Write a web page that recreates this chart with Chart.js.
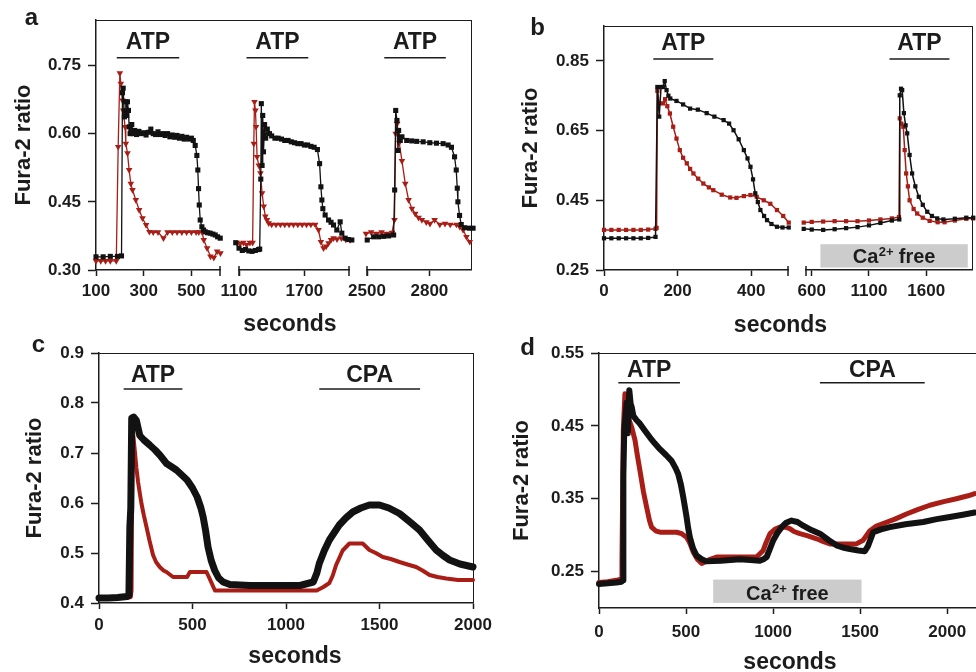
<!DOCTYPE html>
<html>
<head>
<meta charset="utf-8">
<title>Fura-2 ratio traces</title>
<script src="https://cdn.jsdelivr.net/npm/chart.js@4.4.1/dist/chart.umd.min.js"></script>
<style>
  html, body { margin: 0; padding: 0; background: #fff; }
  #fig { position: relative; width: 976px; height: 672px; overflow: hidden; background: #fff;
         font-family: "Liberation Sans", Arial, Helvetica, sans-serif; color: #1c1c1c; }
  #fig canvas { position: absolute; }
  .lbl { position: absolute; line-height: 1; font-weight: bold; white-space: nowrap; transform: translateX(-50%); }
  .frame { position: absolute; border-top: 1px solid #1c1c1c; border-right: 1px solid #1c1c1c; box-sizing: border-box; }
</style>
</head>
<body>
<div id="fig"></div>
<script>
// ---- panel a (three time windows, seconds / Fura-2 ratio) ----
const aT1_red = [100,120,140,160,185,193,200,204,211,214,
                 222,225,232,239,246,253,267,281,295,310,
                 324,340,360,383,400,420,440,460,480,500,
                 520,531,545,552,566,580,594,608,622];
const aV1_red = [0.32,0.32,0.32,0.32,0.32,0.571,0.733,0.71,0.673,0.651,
                 0.615,0.578,0.557,0.52,0.49,0.476,0.454,0.432,0.414,0.399,
                 0.384,0.383,0.383,0.37,0.383,0.383,0.383,0.383,0.383,0.383,
                 0.383,0.383,0.383,0.366,0.348,0.33,0.327,0.341,0.337];
const aT1_blk = [100,130,160,190,207,211,214,219,222,225,
                 229,232,236,239,243,246,250,256,262,270,
                 280,290,300,310,320,330,340,350,360,370,
                 380,390,400,410,420,430,440,450,460,470,
                 480,490,500,508,516,523,527,530,533,537,
                 544,551,558,568,579,590,600,610,621,632,
                 642];
const aV1_blk = [0.329,0.329,0.33,0.33,0.331,0.69,0.70,0.637,0.65,0.67,
                 0.64,0.67,0.651,0.615,0.60,0.604,0.62,0.60,0.607,0.598,
                 0.605,0.60,0.602,0.597,0.603,0.61,0.60,0.598,0.604,0.598,
                 0.60,0.596,0.60,0.593,0.597,0.592,0.596,0.59,0.594,0.588,
                 0.592,0.588,0.59,0.585,0.574,0.552,0.52,0.479,0.443,0.41,
                 0.395,0.388,0.384,0.382,0.381,0.379,0.377,0.373,0.37,0.366,
                 0.362];
const aT2_red = [1080,1110,1140,1170,1200,1225,1236,1242,1251,1257,
                 1266,1282,1297,1312,1327,1342,1357,1373,1400,1440,
                 1480,1520,1560,1600,1640,1680,1720,1760,1800,1830,
                 1852,1876,1900,1922,1945,1968,2000,2040,2080,2120];
const aV2_red = [0.36,0.358,0.36,0.355,0.36,0.36,0.578,0.67,0.651,0.615,
                 0.549,0.53,0.513,0.469,0.44,0.418,0.41,0.403,0.40,0.40,
                 0.40,0.40,0.40,0.40,0.40,0.40,0.40,0.40,0.40,0.388,
                 0.362,0.348,0.352,0.359,0.366,0.37,0.368,0.37,0.367,0.366];
const aT2_blk = [1070,1100,1130,1160,1190,1220,1250,1280,1290,1300,
                 1305,1312,1318,1325,1335,1345,1360,1380,1400,1430,
                 1460,1490,1520,1550,1580,1610,1640,1670,1700,1730,
                 1760,1790,1820,1840,1852,1861,1870,1891,1922,1945,
                 1968,1998,2029,2044,2075,2105,2136];
const aV2_blk = [0.36,0.348,0.343,0.345,0.342,0.341,0.343,0.345,0.346,0.50,
                 0.666,0.53,0.64,0.56,0.62,0.59,0.61,0.60,0.595,0.59,
                 0.59,0.588,0.585,0.585,0.582,0.58,0.578,0.578,0.575,0.575,
                 0.572,0.57,0.565,0.534,0.483,0.454,0.435,0.421,0.41,0.405,
                 0.399,0.388,0.406,0.381,0.37,0.367,0.366];
const aT3_red = [2495,2520,2545,2570,2595,2620,2632,2638,2645,2655,
                 2668,2684,2700,2716,2732,2748,2764,2785,2803,2825,
                 2850,2875,2900,2930,2946,2962,2978,2994];
const aV3_red = [0.38,0.383,0.38,0.383,0.38,0.382,0.41,0.60,0.622,0.58,
                 0.54,0.49,0.454,0.435,0.424,0.415,0.41,0.405,0.402,0.41,
                 0.40,0.402,0.40,0.40,0.395,0.388,0.373,0.362];
const aT3_blk = [2501,2532,2556,2580,2604,2628,2633,2638,2644,2649,
                 2652,2660,2668,2691,2715,2739,2770,2802,2834,2866,
                 2890,2906,2921,2929,2934,2937,2945,2953,2969,2993,
                 3010,3025];
const aV3_blk = [0.366,0.373,0.373,0.374,0.375,0.377,0.476,0.651,0.629,0.563,
                 0.607,0.585,0.593,0.585,0.584,0.583,0.582,0.58,0.579,0.578,
                 0.575,0.57,0.549,0.52,0.48,0.45,0.42,0.40,0.393,0.392,
                 0.392,0.392];
const aYTicks = [0.30, 0.45, 0.60, 0.75];

// ---- panel b (two windows) ----
const bT1_blk = [0,20,40,60,80,100,120,140,145,150,
                 155,160,165,170,175,180,197,215,234,255,
                 279,300,325,340,352,366,380,390,398,405,
                 411,418,425,435,443,455,470,485,502];
const bV1_blk = [0.341,0.341,0.341,0.341,0.341,0.341,0.342,0.345,0.775,0.69,
                 0.775,0.775,0.792,0.766,0.75,0.742,0.735,0.725,0.713,0.71,
                 0.70,0.69,0.68,0.67,0.651,0.625,0.594,0.57,0.546,0.51,
                 0.47,0.445,0.422,0.405,0.393,0.382,0.374,0.372,0.372];
const bT1_red = [0,20,40,60,80,100,120,140,143,145,
                 150,160,166,172,179,188,197,206,215,225,
                 234,243,256,270,285,297,320,343,360,380,
                 398,415,434,452,470,487,502];
const bV1_red = [0.365,0.365,0.365,0.365,0.365,0.365,0.366,0.368,0.371,0.764,
                 0.728,0.728,0.74,0.72,0.699,0.661,0.627,0.594,0.572,0.556,
                 0.54,0.527,0.512,0.498,0.487,0.479,0.466,0.458,0.457,0.462,
                 0.465,0.46,0.45,0.44,0.422,0.405,0.386];
const bT2_blk = [530,600,700,800,900,1000,1100,1200,1300,1365,
                 1369,1380,1390,1405,1420,1434,1455,1477,1505,1535,
                 1570,1609,1650,1696,1750,1850,1950,2010];
const bV2_blk = [0.368,0.366,0.365,0.367,0.37,0.373,0.378,0.385,0.392,0.395,
                 0.751,0.77,0.766,0.70,0.665,0.642,0.58,0.527,0.49,0.46,
                 0.437,0.417,0.405,0.398,0.395,0.397,0.40,0.40];
const bT2_red = [530,600,700,800,900,1000,1100,1200,1300,1362,
                 1369,1382,1400,1412,1425,1440,1455,1490,1521,1570,
                 1630,1700,1760,1850,1950,2010];
const bV2_red = [0.386,0.388,0.389,0.39,0.39,0.39,0.392,0.395,0.398,0.402,
                 0.685,0.67,0.661,0.594,0.527,0.49,0.45,0.425,0.412,0.40,
                 0.391,0.387,0.387,0.392,0.397,0.398];
const bYTicks = [0.25, 0.45, 0.65, 0.85];

// ---- panel c ----
const cT_blk = [0,50,100,150,160,165,170,175,185,200,
                218,240,271,300,325,361,390,414,440,471,
                500,525,545,557,570,583,600,619,640,664,
                700,807,950,1075,1146,1165,1178,1205,1232,1260,
                1285,1320,1357,1400,1446,1500,1550,1607,1660,1714,
                1760,1803,1840,1875,1930,2000];
const cV_blk = [0.41,0.41,0.411,0.413,0.415,0.552,0.589,0.77,0.772,0.765,
                0.735,0.726,0.716,0.706,0.696,0.679,0.672,0.666,0.657,0.646,
                0.63,0.612,0.59,0.572,0.545,0.512,0.485,0.465,0.45,0.442,
                0.437,0.435,0.435,0.435,0.442,0.46,0.479,0.505,0.526,0.542,
                0.556,0.57,0.582,0.59,0.596,0.596,0.59,0.579,0.563,0.546,
                0.525,0.506,0.495,0.486,0.478,0.472];
const cT_red = [0,50,100,150,170,174,179,191,200,209,
                218,227,240,254,270,289,305,325,345,361,
                396,430,471,486,520,575,590,602,620,700,
                900,1100,1164,1200,1232,1250,1268,1285,1303,1339,
                1410,1446,1480,1518,1560,1607,1650,1696,1730,1768,
                1810,1857,1920,2000];
const cV_red = [0.41,0.41,0.41,0.41,0.412,0.425,0.753,0.706,0.67,0.642,
                0.62,0.599,0.575,0.552,0.525,0.496,0.482,0.472,0.465,0.462,
                0.452,0.452,0.452,0.462,0.462,0.462,0.45,0.44,0.425,0.425,
                0.425,0.425,0.425,0.432,0.44,0.455,0.476,0.49,0.505,0.519,
                0.519,0.506,0.50,0.492,0.488,0.482,0.477,0.472,0.465,0.456,
                0.452,0.449,0.446,0.446];
const cYTicks = [0.4, 0.5, 0.6, 0.7, 0.8, 0.9];

// ---- panel d ----
const dT_blk = [0,50,100,130,138,140,145,159,166,174,
                182,188,197,215,235,265,293,320,350,385,
                417,440,455,470,484,494,503,512,522,540,
                560,590,617,700,809,870,924,945,963,980,
                1001,1025,1049,1075,1106,1140,1173,1220,1269,1320,
                1364,1400,1441,1490,1527,1545,1575,1620,1670,1760,
                1862,1940,2015,2090,2158];
const dV_blk = [0.233,0.234,0.235,0.236,0.238,0.382,0.443,0.482,0.44,0.499,
                0.48,0.476,0.464,0.458,0.453,0.443,0.434,0.426,0.418,0.41,
                0.402,0.392,0.384,0.37,0.352,0.338,0.325,0.31,0.297,0.282,
                0.272,0.267,0.264,0.265,0.267,0.266,0.265,0.267,0.27,0.28,
                0.293,0.303,0.311,0.317,0.32,0.318,0.313,0.307,0.302,0.293,
                0.286,0.283,0.281,0.279,0.278,0.285,0.304,0.308,0.311,0.315,
                0.318,0.322,0.325,0.328,0.331];
const dT_red = [0,50,100,130,132,140,149,159,170,188,
                207,220,235,255,274,290,302,325,350,400,
                446,475,503,520,541,565,590,630,676,800,
                905,943,960,982,1010,1039,1070,1096,1120,1154,
                1200,1250,1290,1326,1400,1479,1517,1556,1590,1632,
                1700,1766,1830,1900,1980,2053,2120,2158];
const dV_red = [0.235,0.236,0.238,0.24,0.265,0.446,0.494,0.476,0.46,0.448,
                0.43,0.41,0.389,0.36,0.338,0.32,0.311,0.306,0.304,0.304,
                0.304,0.302,0.297,0.29,0.277,0.267,0.261,0.266,0.27,0.27,
                0.27,0.279,0.29,0.302,0.308,0.311,0.311,0.309,0.305,0.302,
                0.299,0.295,0.291,0.288,0.288,0.288,0.293,0.306,0.312,0.316,
                0.322,0.329,0.335,0.341,0.346,0.35,0.354,0.357];
const dYTicks = [0.25, 0.35, 0.45, 0.55];

// treatment bars (seconds)
const aATP = [[187, 449], [1169, 1736], [2583, 2879]];
const bATP = [[134, 297], [1279, 1803]];
const bCaFree = [676, 1963];
const cATP = [132, 446], cCPA = [1178, 1717];
const dATP = [111, 465], dCPA = [1269, 1871];
const dCaFree = [656, 1508];

(function(){
    const fig = document.getElementById('fig');
    const FONT = '"Liberation Sans", Arial, Helvetica, sans-serif';
    const INK = '#1c1c1c';
    const RED = '#a81e16';
    const BLK = '#121212';
    const PL = 110, PR = 50, PT = 50, PB = 60, XH = 42;
    Chart.defaults.font.family = FONT;

    const STYLE = {
        tri:   { pointStyle: 'triangle', pointRotation: 180, pointRadius: 3.8, borderWidth: 1.3 },
        sqA:   { pointStyle: 'rect', pointRadius: 3.6, borderWidth: 1.3 },
        sqB:   { pointStyle: 'rect', pointRadius: 3.0, borderWidth: 1.5 },
        bandC: { pointRadius: 0, borderWidth: 7 },
        thinC: { pointRadius: 0, borderWidth: 4 },
        bandD: { pointRadius: 0, borderWidth: 6 },
        thinD: { pointRadius: 0, borderWidth: 5 }
    };

    function series(t, v, color, style){
        return Object.assign({
            data: t.map((x, i) => ({ x: x, y: v[i] })),
            borderColor: color, backgroundColor: color,
            pointBackgroundColor: color, pointBorderColor: color, pointBorderWidth: 0,
            fill: false, tension: 0, clip: false,
            borderJoinStyle: 'round', borderCapStyle: 'round'
        }, STYLE[style]);
    }

    function drawCaFree(ctx, cx, base){
        const big = 'bold 20px ' + FONT, small = 'bold 13px ' + FONT;
        ctx.font = big;
        const w1 = ctx.measureText('Ca').width, w3 = ctx.measureText(' free').width;
        ctx.font = small;
        const w2 = ctx.measureText('2+').width;
        const x0 = cx - (w1 + w2 + w3) / 2;
        ctx.fillStyle = INK; ctx.textAlign = 'left'; ctx.textBaseline = 'alphabetic';
        ctx.font = big; ctx.fillText('Ca', x0, base);
        ctx.font = small; ctx.fillText('2+', x0 + w1 + 0.5, base - 7);
        ctx.font = big; ctx.fillText(' free', x0 + w1 + w2, base);
    }

    function notes(s){
        return {
            id: 'notes',
            beforeDatasetsDraw(chart){
                const ctx = chart.ctx, x = chart.scales.x, y = chart.scales.y;
                ctx.save();
                (s.boxes || []).forEach(b => {
                    const x0 = x.getPixelForValue(b.x0), x1 = x.getPixelForValue(b.x1);
                    const y0 = y.getPixelForValue(b.y1), y1 = y.getPixelForValue(b.y0);
                    ctx.fillStyle = '#cccccc';
                    ctx.fillRect(x0, y0, x1 - x0, y1 - y0);
                    drawCaFree(ctx, (x0 + x1) / 2, y.getPixelForValue(b.yText));
                });
                ctx.restore();
            },
            afterDraw(chart){
                const ctx = chart.ctx, area = chart.chartArea, x = chart.scales.x, y = chart.scales.y;
                ctx.save();
                ctx.strokeStyle = INK; ctx.lineWidth = 1.5;
                (s.breaks || []).forEach(v => {
                    const px = x.getPixelForValue(v);
                    ctx.beginPath(); ctx.moveTo(px, area.bottom - 4); ctx.lineTo(px, area.bottom + 6); ctx.stroke();
                });
                (s.drugs || []).forEach(d => {
                    const x0 = x.getPixelForValue(d.x0), x1 = x.getPixelForValue(d.x1);
                    const yl = y.getPixelForValue(d.yLine);
                    ctx.beginPath(); ctx.moveTo(x0, yl); ctx.lineTo(x1, yl); ctx.stroke();
                    ctx.font = 'bold 23px ' + FONT; ctx.fillStyle = INK;
                    ctx.textAlign = 'center'; ctx.textBaseline = 'alphabetic';
                    ctx.fillText(d.label, (x0 + x1) / 2, y.getPixelForValue(d.yText));
                });
                ctx.restore();
            }
        };
    }

    function segment(s){
        const W = s.w + PL + PR, H = s.h + PT + PB;
        const cv = document.createElement('canvas');
        cv.width = W; cv.height = H;
        cv.style.left = (s.left - PL) + 'px'; cv.style.top = (s.top - PT) + 'px';
        cv.style.width = W + 'px'; cv.style.height = H + 'px';
        fig.appendChild(cv);
        const showY = s.yTitleX != null;
        const yW = showY ? (s.left - s.yTitleX + 22 * 1.2 / 2) : 0;
        const tickFont = { family: FONT, size: 17, weight: 'bold' };
        new Chart(cv, {
            type: 'line',
            data: { datasets: s.datasets },
            options: {
                responsive: false, animation: false, devicePixelRatio: 1, events: [],
                layout: { padding: { left: PL - yW, right: PR, top: PT, bottom: PB - XH } },
                plugins: { legend: { display: false }, tooltip: { enabled: false } },
                scales: {
                    x: {
                        type: 'linear', min: s.xmin, max: s.xmax,
                        afterBuildTicks: sc => { sc.ticks = s.xticks.map(v => ({ value: v })); },
                        afterFit: sc => { sc.height = XH; },
                        grid: { drawOnChartArea: false, drawTicks: true, tickLength: 6, tickColor: INK, tickWidth: 1.5 },
                        border: { display: true, color: INK, width: 1.5 },
                        ticks: { color: INK, font: tickFont, padding: s.xPad, maxRotation: 0, autoSkip: false,
                                 callback: v => String(v) }
                    },
                    y: {
                        display: showY, min: s.ymin, max: s.ymax,
                        afterBuildTicks: sc => { sc.ticks = s.yticks.map(v => ({ value: v })); },
                        afterFit: sc => { sc.width = yW; },
                        grid: { drawOnChartArea: false, drawTicks: true, tickLength: 8, tickColor: INK, tickWidth: 1.5 },
                        border: { display: true, color: INK, width: 1.5 },
                        ticks: { color: INK, font: tickFont, padding: 7, autoSkip: false,
                                 callback: v => v.toFixed(s.ydec) },
                        title: { display: true, text: 'Fura-2 ratio', color: INK, padding: 0,
                                 font: { family: FONT, size: 22, weight: 'bold' } }
                    }
                }
            },
            plugins: [notes(s)]
        });
    }

    function frame(l, t, r, b){
        const d = document.createElement('div');
        d.className = 'frame';
        d.style.left = l + 'px'; d.style.top = t + 'px';
        d.style.width = (r - l + 1) + 'px'; d.style.height = (b - t) + 'px';
        fig.appendChild(d);
    }

    function text(txt, cx, base, size){
        const d = document.createElement('div');
        d.className = 'lbl'; d.textContent = txt;
        d.style.fontSize = size + 'px';
        d.style.left = cx + 'px';
        d.style.top = (base - 0.8465 * size) + 'px';
        fig.appendChild(d);
    }

    // frames (top and right sides of each plot box)
    frame(96, 20, 471, 270);
    frame(604, 26, 972, 270);
    frame(99, 353, 473, 603);
    frame(599, 353, 990, 608);

    // panel a
    const ya = { top: 20, h: 250, ymin: 0.30, ymax: 0.85, yticks: aYTicks, ydec: 2, xPad: 5 };
    const atpA = i => ({ label: 'ATP', x0: aATP[i][0], x1: aATP[i][1], yText: 0.787, yLine: 0.767 });
    segment(Object.assign({}, ya, { left: 96, w: 124, xmin: 100, xmax: 620, xticks: [100, 300, 500],
        breaks: [620], yTitleX: 24, drugs: [atpA(0)],
        datasets: [series(aT1_blk, aV1_blk, BLK, 'sqA'), series(aT1_red, aV1_red, RED, 'tri')] }));
    segment(Object.assign({}, ya, { left: 239, w: 110, xmin: 1100, xmax: 2110, xticks: [1100, 1700],
        breaks: [1100, 2110], drugs: [atpA(1)],
        datasets: [series(aT2_blk, aV2_blk, BLK, 'sqA'), series(aT2_red, aV2_red, RED, 'tri')] }));
    segment(Object.assign({}, ya, { left: 367, w: 104, xmin: 2500, xmax: 3000, xticks: [2500, 2800],
        breaks: [2500], drugs: [atpA(2)],
        datasets: [series(aT3_blk, aV3_blk, BLK, 'sqA'), series(aT3_red, aV3_red, RED, 'tri')] }));

    // panel b
    const yb = { top: 26, h: 244, ymin: 0.25, ymax: 0.95, yticks: bYTicks, ydec: 2, xPad: 5 };
    segment(Object.assign({}, yb, { left: 604, w: 184, xmin: 0, xmax: 500, xticks: [0, 200, 400],
        breaks: [500], yTitleX: 531,
        drugs: [{ label: 'ATP', x0: bATP[0][0], x1: bATP[0][1], yText: 0.880, yLine: 0.855 }],
        datasets: [series(bT1_blk, bV1_blk, BLK, 'sqB'), series(bT1_red, bV1_red, RED, 'sqB')] }));
    segment(Object.assign({}, yb, { left: 806, w: 166, xmin: 550, xmax: 2000, xticks: [600, 1100, 1600],
        breaks: [550],
        drugs: [{ label: 'ATP', x0: bATP[1][0], x1: bATP[1][1], yText: 0.880, yLine: 0.855 }],
        boxes: [{ x0: bCaFree[0], x1: bCaFree[1], y0: 0.257, y1: 0.324, yText: 0.269 }],
        datasets: [series(bT2_blk, bV2_blk, BLK, 'sqB'), series(bT2_red, bV2_red, RED, 'sqB')] }));

    // panel c
    segment({ left: 99, top: 353, w: 374, h: 250, xmin: 0, xmax: 2000, xticks: [0, 500, 1000, 1500, 2000],
        ymin: 0.4, ymax: 0.9, yticks: cYTicks, ydec: 1, xPad: 6, yTitleX: 35,
        drugs: [{ label: 'ATP', x0: cATP[0], x1: cATP[1], yText: 0.843, yLine: 0.828 },
                { label: 'CPA', x0: cCPA[0], x1: cCPA[1], yText: 0.843, yLine: 0.828 }],
        datasets: [series(cT_blk, cV_blk, BLK, 'bandC'), series(cT_red, cV_red, RED, 'thinC')] });

    // panel d
    segment({ left: 599, top: 353, w: 383, h: 255, xmin: 0, xmax: 2200, xticks: [0, 500, 1000, 1500, 2000],
        ymin: 0.20, ymax: 0.55, yticks: dYTicks, ydec: 2, xPad: 8, yTitleX: 522,
        drugs: [{ label: 'ATP', x0: dATP[0], x1: dATP[1], yText: 0.517, yLine: 0.509 },
                { label: 'CPA', x0: dCPA[0], x1: dCPA[1], yText: 0.517, yLine: 0.509 }],
        boxes: [{ x0: dCaFree[0], x1: dCaFree[1], y0: 0.207, y1: 0.239, yText: 0.2105 }],
        datasets: [series(dT_blk, dV_blk, BLK, 'bandD'), series(dT_red, dV_red, RED, 'thinD')] });

    // panel letters and x titles
    text('a', 31.5, 25, 24);
    text('b', 537.5, 35, 24);
    text('c', 38.5, 352.7, 24);
    text('d', 527.5, 355, 24);
    text('seconds', 290, 331, 23);
    text('seconds', 780.5, 332, 23);
    text('seconds', 295, 663, 23);
    text('seconds', 790, 669, 23);
})();
</script>
</body>
</html>
